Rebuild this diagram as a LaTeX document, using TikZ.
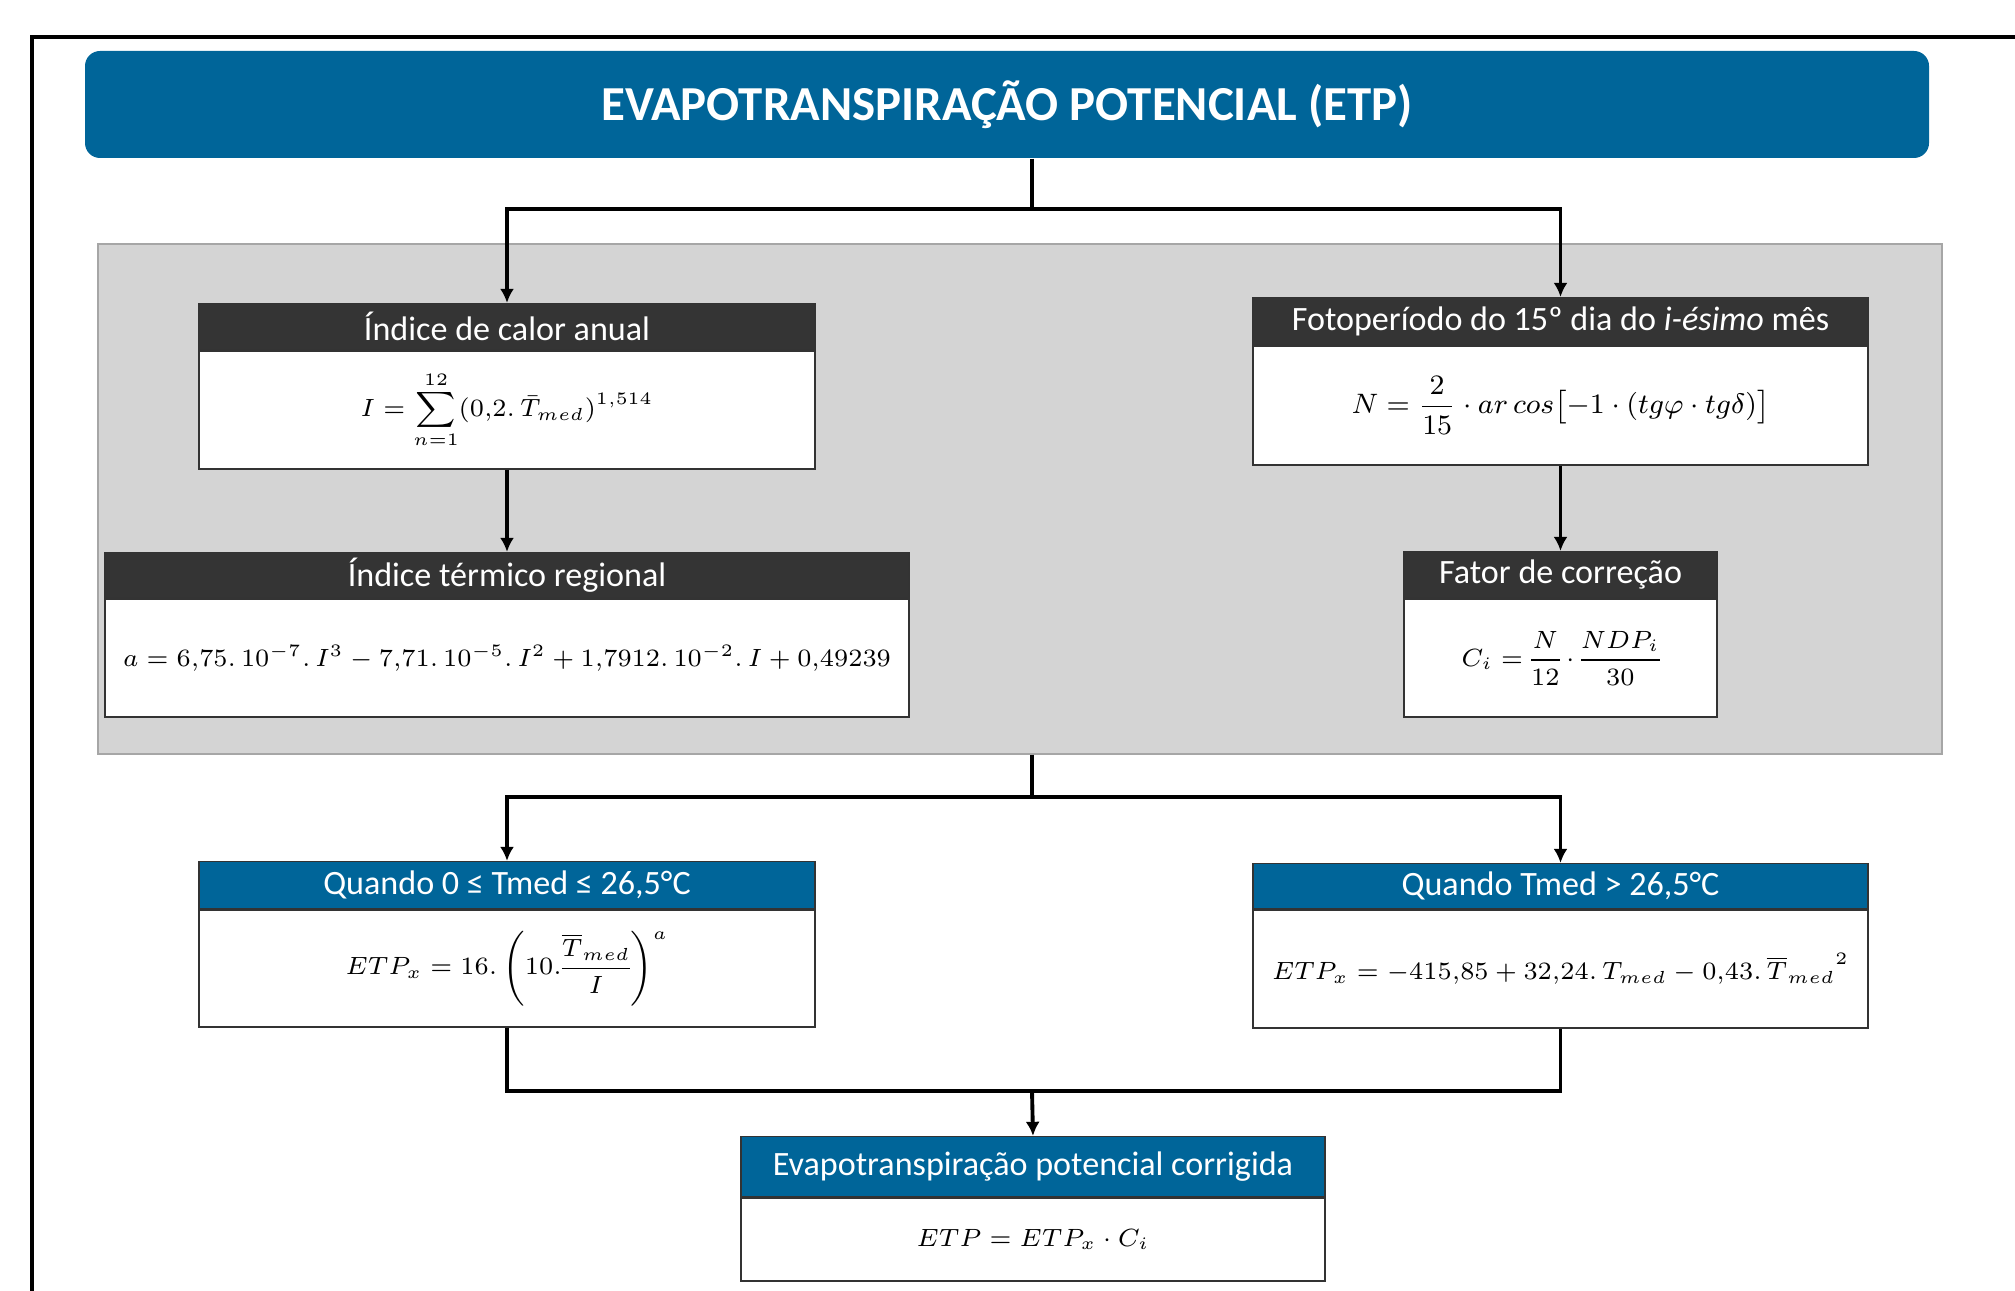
\RequirePackage{fix-cm}
\documentclass[tikz,border=0pt]{standalone}
\usepackage{amsmath}
\usepackage[no-math]{fontspec}
\setmainfont{Carlito}
\usetikzlibrary{positioning,arrows.meta}
\definecolor{EtpBlue}{RGB}{0,101,153}
\definecolor{HeadDark}{RGB}{52,52,52}
\definecolor{PanelGray}{RGB}{212,212,212}
\newcommand\formulafont{\fontsize{7.1}{9}\selectfont\nulldelimiterspace=0pt\relax}
\tikzset{
  head/.style={draw=black!80, fill=HeadDark, text=white, inner sep=0pt, font=\fontsize{9.7}{11}\selectfont},
  bluehead/.style={head, fill=EtpBlue},
  body/.style={draw=black!80, fill=white, inner sep=0pt, font=\formulafont},
  link/.style={line width=1.1pt},
  arrow/.style={link, -{Latex[length=4pt,width=4pt]}},
}

\begin{document}
\begin{tikzpicture}
	\useasboundingbox (0,0) rectangle (20.15,-12.91);
	\draw[line width=1.4pt] (0.32,-12.91) -- (0.32,-0.37) -- (20.15,-0.37);% page frame
	
	% title
	\node[fill=EtpBlue, rounded corners=0.15cm, minimum width=18.44cm, minimum height=1.07cm, text=white, font=\bfseries\fontsize{13.9}{16}\selectfont] (Title) at (10.07,-1.045) {EVAPOTRANSPIRAÇÃO POTENCIAL (ETP)};
	
	% gray panel
	\node[draw=black!35, fill=PanelGray, minimum width=18.44cm, minimum height=5.10cm, inner sep=0pt] (Panel) at (10.20,-4.99) {};
	
	\node[body, minimum width=6.16cm, minimum height=1.18cm] (CalorBody) at (5.07,-4.10) {$\displaystyle I = \sum_{n=1}^{12}(0{,}2.\,\bar{T}_{med})^{1{,}514}$};
	\node[head, minimum width=6.16cm, minimum height=0.46cm, above=0pt of CalorBody] (CalorHead) {Índice de calor anual};
	
	\node[body, minimum width=8.04cm, minimum height=1.18cm] (TermBody) at (5.07,-6.58) {$a = 6{,}75.\,10^{-7}.\,I^3 - 7{,}71.\,10^{-5}.\,I^2 + 1{,}7912.\,10^{-2}.\,I + 0{,}49239$};
	\node[head, minimum width=8.04cm, minimum height=0.45cm, above=0pt of TermBody] (TermHead) {Índice térmico regional};
	
	\node[body, font=\fontsize{8}{10}\selectfont, minimum width=6.15cm, minimum height=1.19cm] (FotoBody) at (15.605,-4.055) {$N = \dfrac{2}{15}\cdot ar\,cos\bigl[-1\cdot(tg\varphi\cdot tg\delta)\bigr]$};
	\node[head, minimum width=6.15cm, minimum height=0.47cm, above=0pt of FotoBody] (FotoHead) {Fotoperíodo do 15º dia do \textit{i-ésimo} mês};
	
	\node[body, minimum width=3.13cm, minimum height=1.18cm] (FatorBody) at (15.605,-6.58) {$C_i = \dfrac{N}{12}\cdot\dfrac{NDP_i}{30}$};
	\node[head, minimum width=3.13cm, minimum height=0.46cm, above=0pt of FatorBody] (FatorHead) {Fator de correção};
	
	\node[body, minimum width=6.16cm, minimum height=1.17cm] (FriaBody) at (5.07,-9.685) {$ETP_x = 16.\left(10.\dfrac{\overline{T}_{med}}{I}\right)^{a}$};
	\node[bluehead, minimum width=6.16cm, minimum height=0.47cm, above=0pt of FriaBody] (FriaHead) {Quando 0 ≤ Tmed ≤ 26,5°C};
	
	\node[body, minimum width=6.15cm, minimum height=1.18cm] (QuenteBody) at (15.605,-9.69) {$ETP_x = -415{,}85 + 32{,}24.\,T_{med} - 0{,}43.\,{\overline{T}_{med}}^{2}$};
	\node[bluehead, minimum width=6.15cm, minimum height=0.45cm, above=0pt of QuenteBody] (QuenteHead) {Quando Tmed > 26,5°C};
	
	\node[body, minimum width=5.84cm, minimum height=0.83cm] (FinalBody) at (10.33,-12.395) {$ETP = ETP_x\cdot C_i$};
	\node[bluehead, minimum width=5.84cm, minimum height=0.60cm, above=0pt of FinalBody] (FinalHead) {Evapotranspiração potencial corrigida};
	
	% connectors
	\coordinate (SplitA) at (10.32,-2.09);
	\coordinate (SplitB) at (10.32,-7.97);
	\coordinate (JoinC)  at (10.32,-10.91);
	\draw[link] (Title.south -| SplitA) -- (SplitA);
	\draw[arrow] (SplitA) -| (CalorHead.north);
	\draw[arrow] (SplitA) -| (FotoHead.north);
	\draw[arrow] (CalorBody.south) -- (TermHead.north);
	\draw[arrow] (FotoBody.south) -- (FatorHead.north);
	\draw[link] (Panel.south -| SplitB) -- (SplitB);
	\draw[arrow] (SplitB) -| (FriaHead.north);
	\draw[arrow] (SplitB) -| (QuenteHead.north);
	\draw[link] (FriaBody.south) |- (JoinC) -| (QuenteBody.south);
	\draw[arrow] (JoinC) -- (FinalHead.north);
\end{tikzpicture}
\end{document}
